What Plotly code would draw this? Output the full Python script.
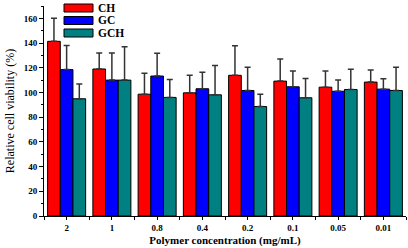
import plotly.graph_objects as go

categories = ["2", "1", "0.8", "0.4", "0.2", "0.1", "0.05", "0.01"]
series_names = ["CH", "GC", "GCH"]
ch_values = [141.4, 119.0, 98.6, 99.7, 113.9, 109.2, 104.3, 108.4]
gc_values = [118.5, 110.0, 113.3, 103.0, 101.6, 104.6, 101.0, 102.7]
gch_values = [94.9, 110.0, 96.0, 98.1, 88.6, 95.7, 102.4, 101.6]
ch_err = [18.6, 13.0, 16.9, 14.3, 23.9, 17.8, 13.1, 9.8]
gc_err = [19.5, 22.0, 18.5, 13.3, 18.8, 12.8, 9.0, 8.5]
gch_err = [11.9, 27.0, 14.6, 23.7, 10.0, 15.7, 16.4, 18.8]
colors = ["#FF0000", "#0000FF", "#008080"]

x_pos = list(range(len(categories)))
values = [ch_values, gc_values, gch_values]
errors = [ch_err, gc_err, gch_err]

fig = go.Figure()
for name, vals, errs, col in zip(series_names, values, errors, colors):
    fig.add_trace(go.Bar(
        x=x_pos, y=vals, name=name,
        marker=dict(color=col, line=dict(color="black", width=1)),
        error_y=dict(type="data", array=errs, arrayminus=[0] * len(errs),
                     symmetric=False, color="#333333", thickness=1.5, width=3),
        showlegend=False,
    ))

L, R, T, B = 44, 2, 6, 32
W, H = 408, 248
pw, ph = W - L - R, H - T - B

def px_to_paper(x, y):
    return (x - L) / pw, (H - B - y) / ph

shapes = []
annotations = []
for i, (name, col) in enumerate(zip(series_names, colors)):
    y0 = 4 + i * 12.5
    x0p, y0p = px_to_paper(64, y0)
    x1p, y1p = px_to_paper(93, y0 + 8)
    shapes.append(dict(type="rect", xref="paper", yref="paper",
                       x0=x0p, x1=x1p, y0=y1p, y1=y0p,
                       fillcolor=col, line=dict(color="black", width=1)))
    tx, ty = px_to_paper(96, y0 + 4)
    annotations.append(dict(xref="paper", yref="paper", x=tx, y=ty,
                            text="<b>%s</b>" % name, showarrow=False,
                            xanchor="left", yanchor="middle",
                            font=dict(family="Liberation Serif", size=11.5, color="black")))

fig.update_layout(
    width=W, height=H,
    margin=dict(l=L, r=R, t=T, b=B, pad=0),
    paper_bgcolor="white", plot_bgcolor="white",
    barmode="group", bargap=0.16, bargroupgap=0,
    font=dict(family="Liberation Serif", color="black"),
    shapes=shapes, annotations=annotations,
    xaxis=dict(
        range=[-0.5, 7.5], tickvals=x_pos,
        ticktext=["<b>%s</b>" % c for c in categories],
        ticks="outside", ticklen=3, tickcolor="black", tickwidth=1,
        minor=dict(tickvals=[i - 0.5 for i in range(len(categories) + 1)],
                   ticks="outside", ticklen=3, tickcolor="black"),
        showline=True, linecolor="black", linewidth=1,
        showgrid=False, zeroline=False,
        tickfont=dict(family="Liberation Serif", size=9),
        title=dict(text="<b>Polymer concentration (mg/mL)</b>",
                   font=dict(family="Liberation Serif", size=11), standoff=4),
    ),
    yaxis=dict(
        range=[0, 170],
        tickvals=list(range(0, 161, 20)),
        ticktext=["<b>%d</b>" % v for v in range(0, 161, 20)],
        ticks="outside", ticklen=4, tickcolor="black", tickwidth=1,
        minor=dict(tickvals=list(range(10, 171, 20)), ticks="outside",
                   ticklen=2, tickcolor="black"),
        showline=True, linecolor="black", linewidth=1,
        showgrid=False, zeroline=False,
        tickfont=dict(family="Liberation Serif", size=9),
        title=dict(text="Relative cell viability (%)",
                   font=dict(family="Liberation Serif", size=12), standoff=6),
    ),
)

fig.write_html("out.html", config={"displayModeBar": False},
               post_script="document.body.style.margin='0';document.body.style.overflow='hidden';")
